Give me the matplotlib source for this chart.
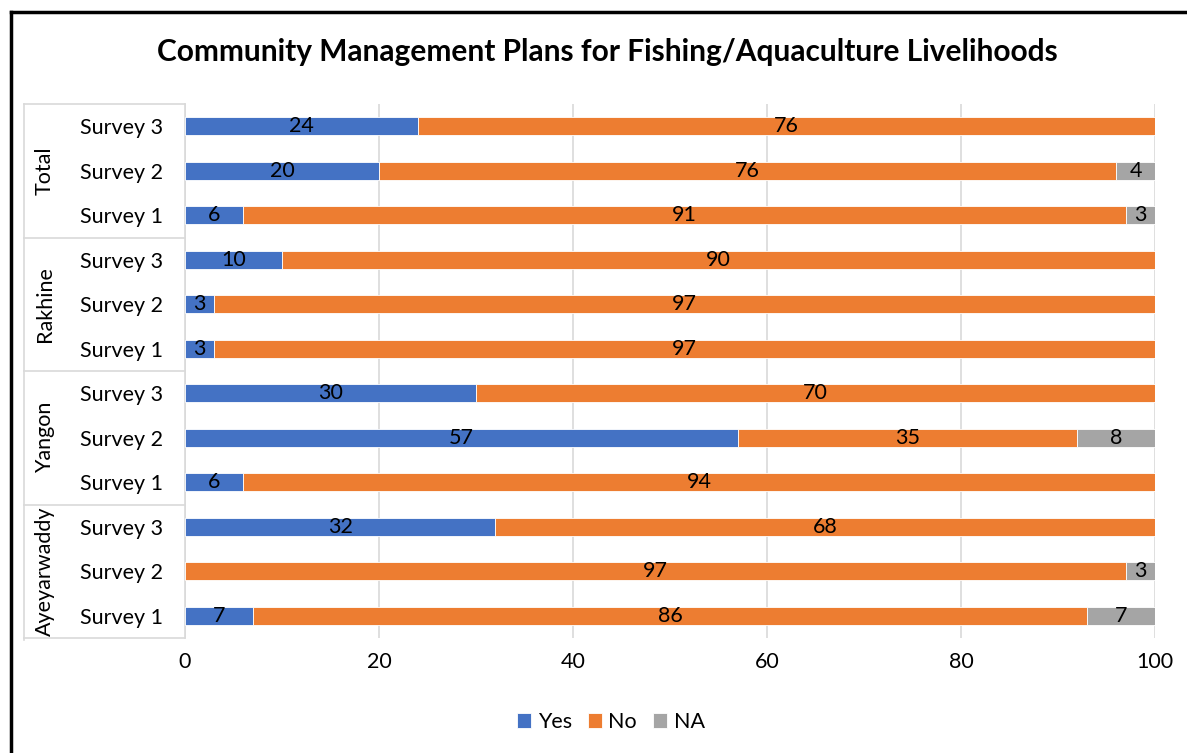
import matplotlib.pyplot as plt
from matplotlib.lines import Line2D
import numpy as np

plt.rcParams['font.family'] = ['Lato', 'DejaVu Sans']

# data, bottom to top
groups = ['Ayeyarwaddy', 'Yangon', 'Rakhine', 'Total']
surveys = ['Survey 1', 'Survey 2', 'Survey 3']
yes = [7, 0, 32, 6, 57, 30, 3, 3, 10, 6, 20, 24]
no = [86, 97, 68, 94, 35, 70, 97, 97, 90, 91, 76, 76]
na = [7, 3, 0, 0, 8, 0, 0, 0, 0, 3, 4, 0]

series = [('Yes', yes, '#4472c4'), ('No', no, '#ed7d31'), ('NA', na, '#a5a5a5')]

W, H = 1187, 753
FS = 15.5
fig = plt.figure(figsize=(W / 100, H / 100), dpi=100)
ax = fig.add_axes([185 / W, 1 - 638 / H, 970 / W, 534 / H])

labels = surveys * len(groups)
y = np.arange(len(labels))
left = np.zeros(len(labels))
for name, vals, col in series:
    vals = np.array(vals, dtype=float)
    ax.barh(y, vals, left=left, height=0.41, color=col, label=name,
            edgecolor='white', linewidth=0.6, zorder=3)
    for yi, l, v in zip(y, left, vals):
        if v > 0:
            ax.text(l + v / 2, yi, f'{v:.0f}', ha='center', va='center',
                    fontsize=FS, color='black', zorder=4)
    left += vals

ax.set_xlim(0, 100)
ax.set_ylim(-0.5, len(labels) - 0.5)
ax.set_xticks(range(0, 101, 20))
ax.set_yticks(y)
ax.set_yticklabels(labels)
ax.tick_params(axis='both', length=0, labelsize=FS)
ax.tick_params(axis='y', pad=16)
ax.tick_params(axis='x', pad=10)
ax.xaxis.grid(True, color='#d9d9d9', linewidth=1.2, zorder=0)
for s in ['top', 'right', 'bottom']:
    ax.spines[s].set_visible(False)
ax.spines['left'].set_color('#d9d9d9')
ax.spines['left'].set_linewidth(1.2)

# group label box
trans = ax.get_yaxis_transform()
xl = (24 - 185) / 970
ax.add_line(Line2D([xl, xl], [-0.55, len(labels) - 0.5], transform=trans,
                   color='#d9d9d9', lw=1.2, clip_on=False))
for b in [-0.5, 2.5, 5.5, 8.5, 11.5]:
    ax.add_line(Line2D([xl, 0], [b, b], transform=trans,
                       color='#d9d9d9', lw=1.2, clip_on=False))
for i, g in enumerate(groups):
    ax.text((45 - 185) / 970, i * 3 + 1, g, transform=trans, rotation=90,
            ha='center', va='center', fontsize=FS)

fig.suptitle('Community Management Plans for Fishing/Aquaculture Livelihoods',
             x=607 / W, y=1 - 52 / H, va='center', fontsize=21.5, fontweight='bold')

fig.legend(loc='center', bbox_to_anchor=(611 / W, 1 - 722 / H), ncol=3, frameon=False,
           fontsize=FS, handlelength=0.65, handleheight=0.65, handletextpad=0.3,
           columnspacing=0.75)

# figure border (left and top)
fig.add_artist(Line2D([11 / W, 11 / W], [0, 1 - 12 / H], color='black', lw=2.5))
fig.add_artist(Line2D([11 / W, 1], [1 - 12 / H, 1 - 12 / H], color='black', lw=2.5))

fig.savefig('out.png', dpi=100)
